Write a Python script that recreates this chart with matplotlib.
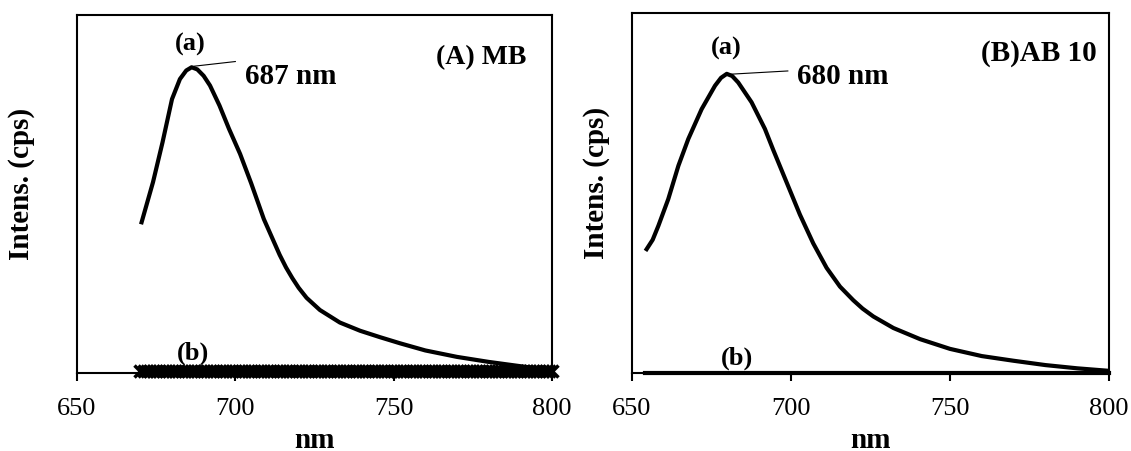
import numpy as np
import matplotlib
matplotlib.use("Agg")
import matplotlib.pyplot as plt

plt.rcParams['font.family'] = ['Liberation Serif', 'DejaVu Serif']

# data (relative intensity, axis bottom = 0, top = 1)
#panel A : MB
wl_A = [670.4, 674, 677, 680, 682.5, 684.5, 686.2, 688, 690, 692, 695, 698, 701.5, 705,
        709, 712, 714, 716, 718, 720, 722.5, 726.7, 733, 739.4, 745.7, 752, 760, 770,
        780, 790, 800]
int_A = [0.421, 0.533, 0.644, 0.765, 0.821, 0.845, 0.854, 0.848, 0.83, 0.803, 0.747, 0.682,
         0.612, 0.53, 0.43, 0.37, 0.33, 0.295, 0.265, 0.238, 0.21, 0.176, 0.141, 0.118,
         0.10, 0.083, 0.063, 0.045, 0.031, 0.019, 0.008]
wl_A_b = np.arange(670, 801, 1)
int_A_b = np.zeros(len(wl_A_b))

#panel B : AB 10
wl_B = [654.6, 656.5, 658.3, 661.4, 664.6, 667.7, 671.9, 676.1, 678, 679.8, 681.5, 683.4,
        687.6, 691.8, 694.4, 698.6, 702.8, 707, 711.2, 715.4, 719.6, 722.5, 725.9, 732.2,
        740.6, 750, 760, 770, 780, 790, 800]
int_B = [0.344, 0.37, 0.409, 0.483, 0.576, 0.65, 0.733, 0.798, 0.82, 0.831, 0.825, 0.807,
         0.752, 0.678, 0.62, 0.53, 0.44, 0.36, 0.292, 0.24, 0.202, 0.179, 0.157, 0.125,
         0.094, 0.067, 0.047, 0.034, 0.022, 0.013, 0.006]
wl_B_b = [654, 800]
int_B_b = [0.0, 0.0]

xticks = [650, 700, 750, 800]

fig = plt.figure(figsize=(11.31, 4.52), dpi=100)
axA = fig.add_axes([77/1131, 1-374/452, 475/1131, 358/452])
axB = fig.add_axes([632/1131, 1-374/452, 477/1131, 360/452])

def style(ax, labx):
    ax.set_xlim(650, 800)
    ax.set_ylim(0, 1)
    ax.set_xticks(xticks)
    ax.set_yticks([])
    ax.tick_params(axis='x', direction='out', length=6, width=1.5, labelsize=19, pad=11)
    for s in ax.spines.values():
        s.set_linewidth(1.5)
    ax.set_xlabel("nm", fontsize=21, fontweight='bold', labelpad=5)
    ax.set_ylabel("Intens. (cps)", fontsize=21, fontweight='bold')
    ax.yaxis.set_label_coords(labx, 0.53)

#plot A
axA.plot(wl_A, int_A, color='black', lw=3, solid_joinstyle='round')
axA.plot(wl_A_b, int_A_b + 0.006, color='black', lw=0, marker='x', ms=8, mew=2.5, clip_on=False)
axA.text(685.7, 0.92, "(a)", fontsize=19, fontweight='bold', ha='center', va='center')
axA.plot([687, 692, 700], [0.857, 0.862, 0.87], color='black', lw=0.8)
axA.text(703, 0.832, "687 nm", fontsize=21, fontweight='bold', ha='left', va='center')
axA.text(792, 0.885, "(A) MB", fontsize=20, fontweight='bold', ha='right', va='center')
axA.text(686.6, 0.058, "(b)", fontsize=19, fontweight='bold', ha='center', va='center')
style(axA, -0.088)

#plot B
axB.plot(wl_B, int_B, color='black', lw=3, solid_joinstyle='round')
axB.plot(wl_B_b, int_B_b, color='black', lw=3, clip_on=False)
axB.text(679.6, 0.905, "(a)", fontsize=19, fontweight='bold', ha='center', va='center')
axB.plot([681, 699], [0.830, 0.839], color='black', lw=0.8)
axB.text(702, 0.825, "680 nm", fontsize=21, fontweight='bold', ha='left', va='center')
axB.text(796, 0.89, "(B)AB 10", fontsize=21, fontweight='bold', ha='right', va='center')
axB.text(683, 0.044, "(b)", fontsize=19, fontweight='bold', ha='center', va='center')
style(axB, -0.046)

fig.savefig("out.png", dpi=100)
